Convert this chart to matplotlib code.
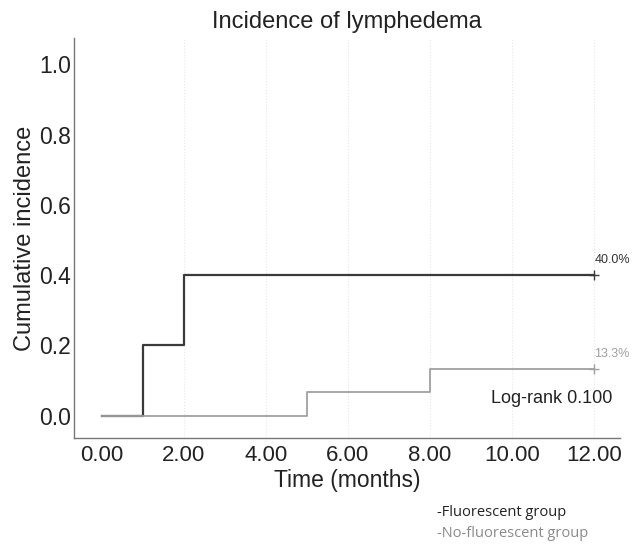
import matplotlib
matplotlib.use("Agg")
import matplotlib.pyplot as plt

# Cumulative incidence step data (months, incidence)
fluor_time = [0, 1, 2, 12]
fluor_inc = [0.0, 0.2, 0.4, 0.4]
nofluor_time = [0, 5, 8, 12]
nofluor_inc = [0.0, 0.0667, 0.1333, 0.1333]

x_ticks = [0, 2, 4, 6, 8, 10, 12]
y_ticks = [0.0, 0.2, 0.4, 0.6, 0.8, 1.0]

plt.rcParams["font.family"] = ["Liberation Sans", "DejaVu Sans"]

fig = plt.figure(figsize=(6.36, 5.46), dpi=100)
ax = fig.add_axes([0.116, 0.198, 0.859, 0.732])

# faint dotted gridlines, as in the scan
for xt in x_ticks[1:]:
    ax.axvline(xt, color="#e6e6e6", lw=0.8, ls=":", zorder=0)

ax.step(fluor_time, fluor_inc, where="post", color="#3a3a3a", lw=1.6)
ax.step(nofluor_time, nofluor_inc, where="post", color="#a0a0a0", lw=1.3)

# censor marks at last follow-up
ax.plot(fluor_time[-1], fluor_inc[-1], marker="+", color="#3a3a3a", ms=7, mew=1)
ax.plot(nofluor_time[-1], nofluor_inc[-1], marker="+", color="#a0a0a0", ms=7, mew=1)

ax.text(12.0, fluor_inc[-1] + 0.025, "40.0%", fontsize=9, color="#333333",
        ha="left", va="bottom")
ax.text(12.0, nofluor_inc[-1] + 0.025, "13.3%", fontsize=9, color="#a0a0a0",
        ha="left", va="bottom")
ax.text(12.45, 0.025, "Log-rank 0.100", fontsize=13, color="#222222",
        ha="right", va="bottom")

ax.set_xlim(-0.68, 12.63)
ax.set_ylim(-0.063, 1.074)
ax.set_xticks(x_ticks)
ax.set_xticklabels(["{:.2f}".format(v) for v in x_ticks])
ax.set_yticks(y_ticks)
ax.set_yticklabels(["{:.1f}".format(v) for v in y_ticks])
ax.tick_params(axis="x", length=0, pad=5, labelsize=16, labelcolor="#222222")
ax.tick_params(axis="y", length=0, pad=2, labelsize=16.5, labelcolor="#222222")

for side in ["top", "right"]:
    ax.spines[side].set_visible(False)
for side in ["left", "bottom"]:
    ax.spines[side].set_color("#777777")
    ax.spines[side].set_linewidth(1.0)

ax.set_title("Incidence of lymphedema", fontsize=17, color="#222222", pad=7)
ax.set_xlabel("Time (months)", fontsize=16.5, color="#222222", labelpad=2)
ax.set_ylabel("Cumulative incidence", fontsize=17, color="#222222", labelpad=2)

# group key, bottom right
fig.text(0.687, 0.055, "-Fluorescent group", fontsize=10.5, color="#222222",
         family=["Open Sans", "DejaVu Sans"])
fig.text(0.687, 0.016, "-No-fluorescent group", fontsize=10.5, color="#8a8a8a",
         family=["Open Sans", "DejaVu Sans"])

fig.savefig("out.png", dpi=100)
